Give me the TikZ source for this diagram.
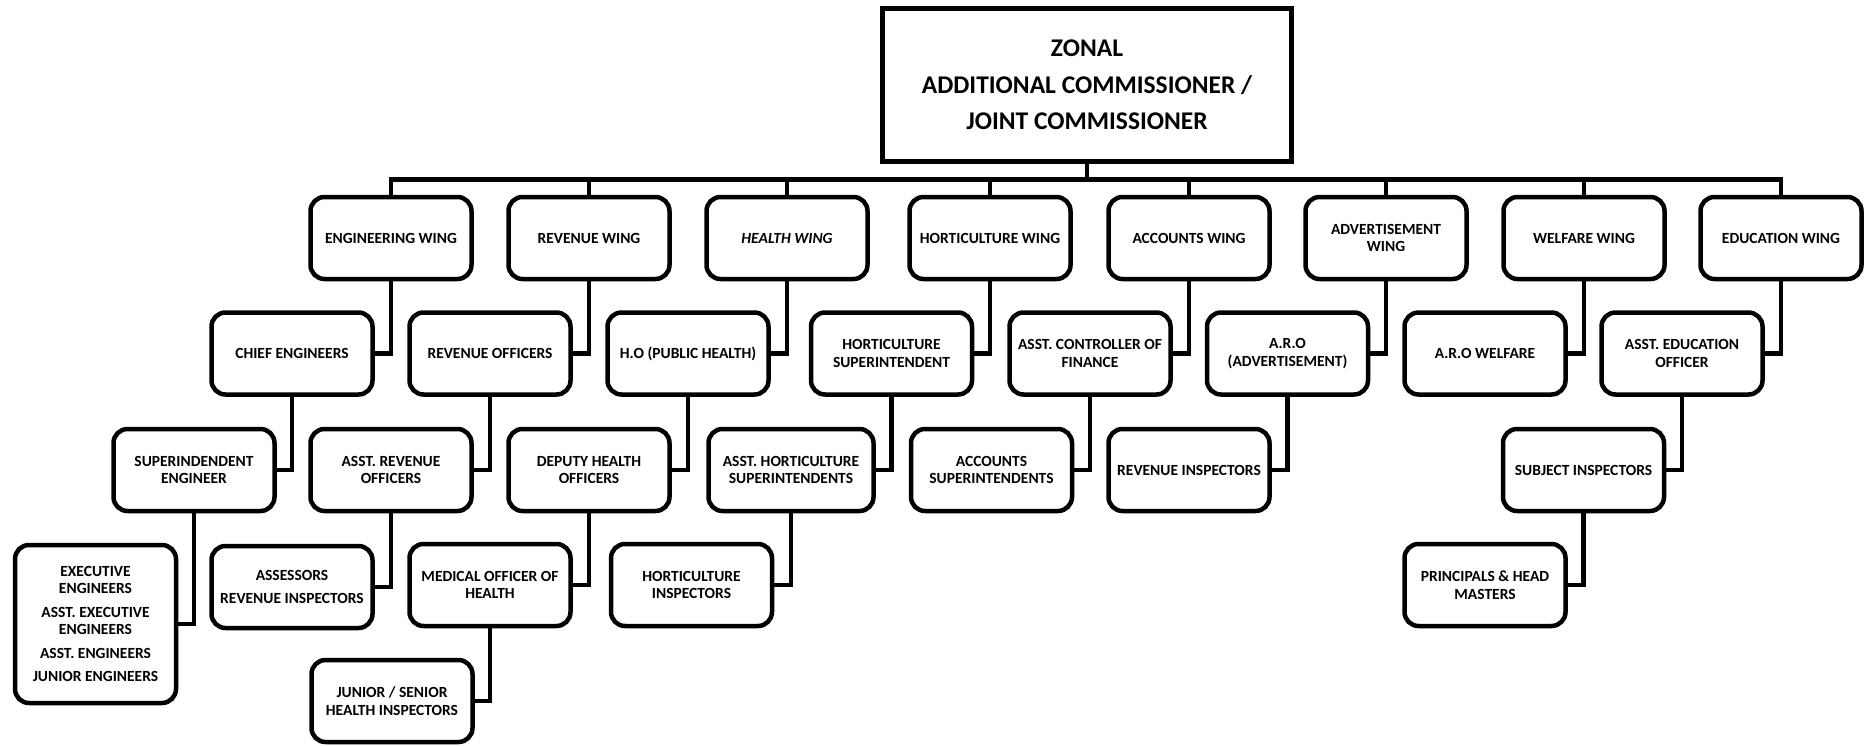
\documentclass[tikz,border=0pt]{standalone}
\usepackage{fontspec}
\setmainfont{Carlito}
\begin{document}
\begin{tikzpicture}[x=1pt,y=-1pt,
  box/.style={draw, line width=4.5pt, rounded corners=14pt, minimum width=161pt, minimum height=82pt,
    align=center, inner sep=2pt, font=\bfseries\fontsize{15.5}{17.5}\selectfont},
  topbox/.style={draw, line width=5pt, minimum width=409pt, minimum height=153pt, align=center,
    font=\bfseries\fontsize{25.5}{36.5}\selectfont},
  conn/.style={line width=4.5pt, line join=miter}]
\useasboundingbox (0,0) rectangle (1873,745);
% top
\node[topbox] (top) at (1087,85) {ZONAL\\ADDITIONAL COMMISSIONER /\\JOINT COMMISSIONER};
% wings
\node[box] (w1) at (391,238) {ENGINEERING WING};
\node[box] (w2) at (589,238) {REVENUE WING};
\node[box] (w3) at (787,238) {\itshape HEALTH WING};
\node[box] (w4) at (990,238) {HORTICULTURE WING};
\node[box] (w5) at (1189,238) {ACCOUNTS WING};
\node[box] (w6) at (1386,238) {ADVERTISEMENT\\WING};
\node[box] (w7) at (1584,238) {WELFARE WING};
\node[box] (w8) at (1781,238) {EDUCATION WING};
% level 2
\node[box] (a1) at (292,353.5) {CHIEF ENGINEERS};
\node[box] (a2) at (490,353.5) {REVENUE OFFICERS};
\node[box] (a3) at (688,353.5) {H.O (PUBLIC HEALTH)};
\node[box] (a4) at (891.5,353.5) {HORTICULTURE\\SUPERINTENDENT};
\node[box] (a5) at (1090,353.5) {ASST. CONTROLLER OF\\FINANCE};
\node[box] (a6) at (1287.5,353.5) {A.R.O\\(ADVERTISEMENT)};
\node[box] (a7) at (1485,353.5) {A.R.O WELFARE};
\node[box] (a8) at (1682,353.5) {ASST. EDUCATION\\OFFICER};
% level 3
\node[box] (b1) at (194,470) {SUPERINDENDENT\\ENGINEER};
\node[box] (b2) at (391,470) {ASST. REVENUE\\OFFICERS};
\node[box] (b3) at (589,470) {DEPUTY HEALTH\\OFFICERS};
\node[box, minimum width=165pt] (b4) at (791,470) {ASST. HORTICULTURE\\SUPERINTENDENTS};
\node[box] (b5) at (991.5,470) {ACCOUNTS\\SUPERINTENDENTS};
\node[box] (b6) at (1189,470) {REVENUE INSPECTORS};
\node[box] (b7) at (1583.5,470) {SUBJECT INSPECTORS};
% level 4
\node[box, minimum height=158pt] (c1) at (95.5,624) {EXECUTIVE\\ENGINEERS\\[6pt]ASST. EXECUTIVE\\ENGINEERS\\[6pt]ASST. ENGINEERS\\[6pt]JUNIOR ENGINEERS};
\node[box] (c2) at (292,587) {ASSESSORS\\[6pt]REVENUE INSPECTORS};
\node[box] (c3) at (490,585) {MEDICAL OFFICER OF\\HEALTH};
\node[box] (c4) at (691.5,585) {HORTICULTURE\\INSPECTORS};
\node[box] (c5) at (1485,585) {PRINCIPALS \& HEAD\\MASTERS};
% level 5
\node[box] (d1) at (392,701) {JUNIOR / SENIOR\\HEALTH INSPECTORS};
% bus
\coordinate (bus) at (1087,179.5);
\draw[conn] (top.south) -- (bus);
\foreach \w in {w1,w2,w3,w4,w5,w6,w7,w8}
  \draw[conn] (bus) -| (\w.north);
% connectors
\foreach \p/\c in {w1/a1,w2/a2,w3/a3,w4/a4,w5/a5,w6/a6,w7/a7,w8/a8,
  a1/b1,a2/b2,a3/b3,a4/b4,a5/b5,a6/b6,a8/b7,
  b1/c1,b2/c2,b3/c3,b4/c4,b7/c5,c3/d1}
  \draw[conn] (\p.south) |- (\c.east);
\end{tikzpicture}
\end{document}
